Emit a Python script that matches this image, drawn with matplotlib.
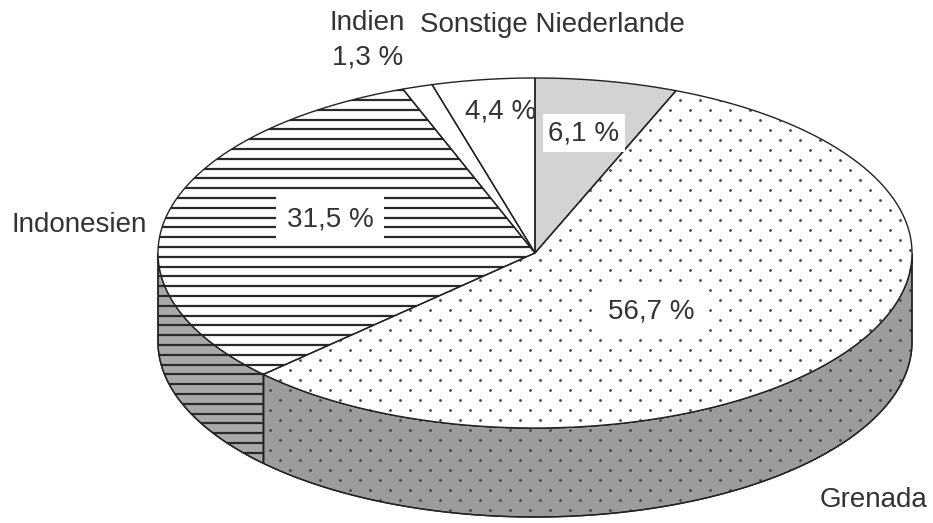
import numpy as np
import matplotlib
matplotlib.use("Agg")
import matplotlib.pyplot as plt
from matplotlib.patches import Polygon
from matplotlib.collections import LineCollection

plt.rcParams['font.family'] = ['Liberation Sans', 'DejaVu Sans']

# data (clockwise from 12 o'clock)
laender = ['Niederlande', 'Grenada', 'Indonesien', 'Indien', 'Sonstige']
anteile = [6.1, 56.7, 31.5, 1.3, 4.4]

# fill style per slice: (top colour, side colour, texture)
top_farben = ['#d3d3d3', 'white', 'white', 'white', 'white']
seiten_farben = ['#c0c0c0', '#9c9c9c', '#a9a9a9', '#c8c8c8', '#c8c8c8']
muster = [None, 'dots', 'lines', None, None]

# ellipse geometry in pixels
cx, cy, rx, ry, tiefe = 535, 253, 377, 175, 89
W, H = 933, 523
txt = '#333333'
fs = 20


def pkt(t, dy=0.0):
    t = np.radians(t)
    return np.column_stack([cx + rx * np.cos(t), cy - ry * np.sin(t) + dy])


def textur(patch, art):
    if art == 'dots':
        xs, ys = [], []
        for i, y in enumerate(np.arange(0, H, 10)):
            for x in np.arange((i % 2) * 10, W, 20):
                xs.append(x)
                ys.append(y)
        sc = ax.scatter(xs, ys, s=4, c='#444444', linewidths=0, zorder=patch.get_zorder() + 0.1)
        sc.set_clip_path(patch)
    elif art == 'lines':
        segs = [[(0, y), (W, y)] for y in np.arange(2, H, 9.8)]
        lc = LineCollection(segs, colors='#2a2a2a', linewidths=1.6, zorder=patch.get_zorder() + 0.1)
        ax.add_collection(lc)
        lc.set_clip_path(patch)


fig = plt.figure(figsize=(W / 100, H / 100), dpi=100)
ax = fig.add_axes([0, 0, 1, 1])
ax.set_xlim(0, W)
ax.set_ylim(H, 0)
ax.axis('off')

grenzen = 90 - np.concatenate([[0], np.cumsum(anteile)]) / 100 * 360

# sides (only lower half visible)
for i in range(len(anteile)):
    hi, lo = grenzen[i], grenzen[i + 1]
    a, b = max(lo, -180), min(hi, 0)
    if a >= b:
        continue
    t = np.linspace(b, a, 120)
    poly = np.vstack([pkt(t), pkt(t[::-1], tiefe)])
    p = Polygon(poly, closed=True, fc=seiten_farben[i], ec='#222222', lw=1.0, zorder=1)
    ax.add_patch(p)
    textur(p, muster[i])
    ax.add_patch(Polygon(poly, closed=True, fill=False, ec='#222222', lw=1.0, zorder=1.5))

# top face
for i in range(len(anteile)):
    t = np.linspace(grenzen[i], grenzen[i + 1], 200)
    poly = np.vstack([[cx, cy], pkt(t)])
    p = Polygon(poly, closed=True, fc=top_farben[i], ec='none', zorder=2)
    ax.add_patch(p)
    textur(p, muster[i])
    ax.add_patch(Polygon(poly, closed=True, fill=False, ec='#222222', lw=1.0, zorder=2.5))

werte = [f"{v:.1f}".replace('.', ',') + ' %' for v in anteile]

box = lambda pad: dict(boxstyle=f'square,pad={pad}', fc='white', ec='none')
ax.text(584, 140, werte[0], ha='center', va='baseline', fontsize=fs, color=txt, bbox=box(0.2), zorder=5)
ax.text(651, 319, werte[1], ha='center', va='baseline', fontsize=fs, color=txt, bbox=box(0.5), zorder=5)
ax.text(330, 227, werte[2], ha='center', va='baseline', fontsize=fs, color=txt, bbox=box(0.4), zorder=5)
ax.text(332, 65, werte[3], ha='left', va='baseline', fontsize=fs, color=txt, zorder=5)
ax.text(501, 119, werte[4], ha='center', va='baseline', fontsize=fs, color=txt, zorder=5)

ax.text(420, 32, laender[4] + ' ' + laender[0], ha='left', va='baseline', fontsize=fs, color=txt)
ax.text(330, 30, laender[3], ha='left', va='baseline', fontsize=fs, color=txt)
ax.text(147, 232, laender[2], ha='right', va='baseline', fontsize=fs, color=txt)
ax.text(927, 507, laender[1], ha='right', va='baseline', fontsize=fs, color=txt)

fig.savefig('out.png', dpi=100, facecolor='white')
